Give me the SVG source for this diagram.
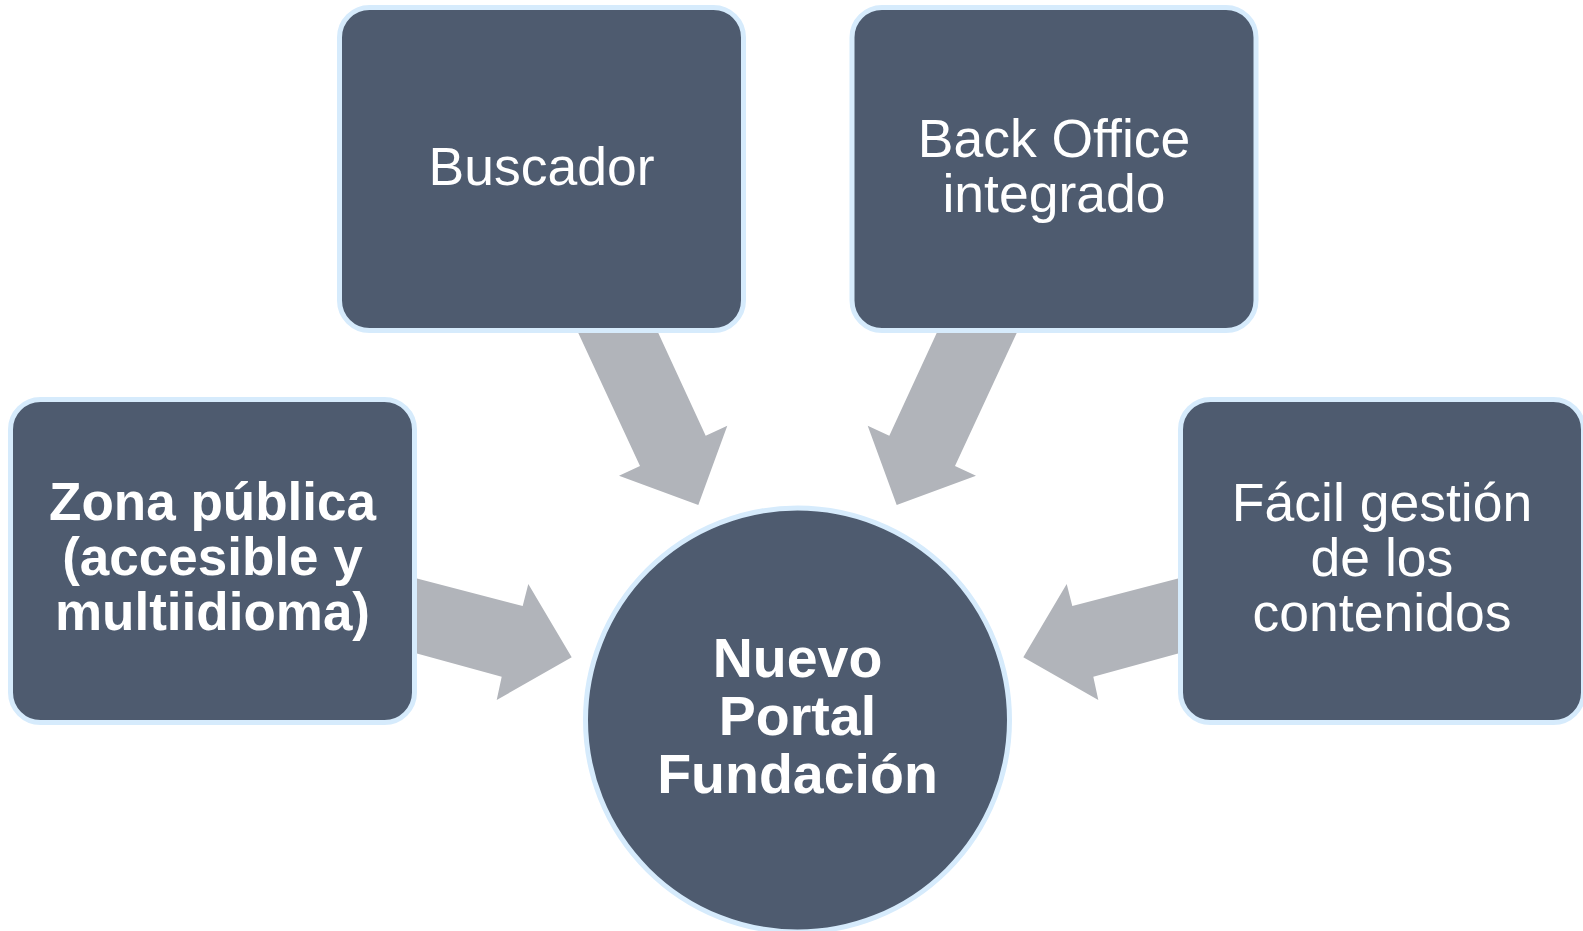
<svg xmlns="http://www.w3.org/2000/svg" width="1583" height="931" viewBox="0 0 1583 931">
  <style>
    .box { fill: #4e5b6f; stroke: #d6ebfc; stroke-width: 5; }
    .arrow { fill: #b1b4ba; stroke: none; }
    .t { fill: #ffffff; font-family: "Liberation Sans", Arial, sans-serif; font-size: 53.5px; text-anchor: middle; }
    .b { font-weight: bold; font-size: 53px; }
    .c { font-size: 55.5px; }
  </style>
  <rect x="0" y="0" width="1583" height="931" fill="#ffffff"/>
  <g id="connectors">
    <polygon class="arrow" points="578.3,333 658.3,333 705.7,435.7 727.3,425.7 698.3,505 619,475.7 640,466"/>
    <polygon class="arrow" points="1016.7,333 936.7,333 889.3,435.7 867.7,425.7 896.7,505 976,475.7 955,466"/>
    <polygon class="arrow" points="416,578.3 522.7,606 528.3,584 571.7,657.3 496.7,700 501.7,676.7 416,653.3"/>
    <polygon class="arrow" points="1179,578.3 1072.3,606 1066.7,584 1023.3,657.3 1098.3,700 1093.3,676.7 1179,653.3"/>
  </g>
  <g id="node-buscador">
    <rect class="box" x="339.5" y="7.5" width="404" height="323" rx="30" ry="30"/>
    <text class="t" x="541.5" y="185">Buscador</text>
  </g>
  <g id="node-backoffice">
    <rect class="box" x="852" y="7.5" width="404" height="323" rx="30" ry="30"/>
    <text class="t" x="1054" y="157">Back Office</text>
    <text class="t" x="1054" y="212">integrado</text>
  </g>
  <g id="node-zona">
    <rect class="box" x="10.5" y="399.5" width="404" height="323" rx="30" ry="30"/>
    <text class="t b" x="212.5" y="520">Zona pública</text>
    <text class="t b" x="212.5" y="575">(accesible y</text>
    <text class="t b" x="212.5" y="630">multiidioma)</text>
  </g>
  <g id="node-facil">
    <rect class="box" x="1180.5" y="399.5" width="403" height="323" rx="30" ry="30"/>
    <text class="t" x="1382" y="521">Fácil gestión</text>
    <text class="t" x="1382" y="576">de los</text>
    <text class="t" x="1382" y="631">contenidos</text>
  </g>
  <g id="node-portal">
    <circle class="box" cx="797.5" cy="720" r="212"/>
    <text class="t b c" x="797.5" y="677">Nuevo</text>
    <text class="t b c" x="797.5" y="735">Portal</text>
    <text class="t b c" x="797.5" y="793">Fundación</text>
  </g>
</svg>
